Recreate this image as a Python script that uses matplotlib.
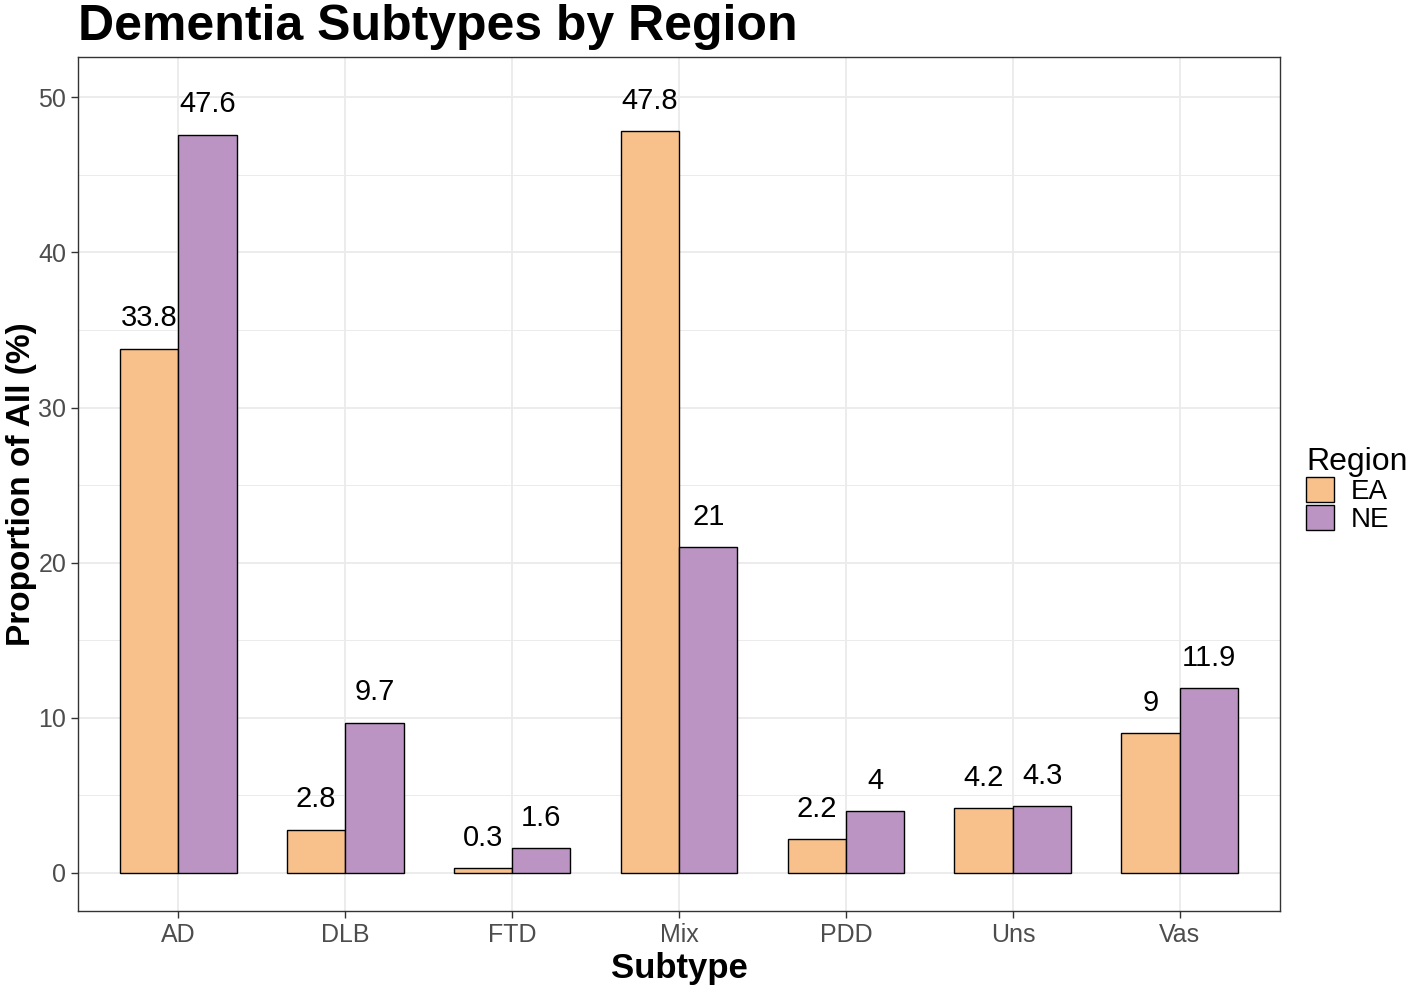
import numpy as np
import matplotlib.pyplot as plt
from matplotlib.patches import Patch
from matplotlib.ticker import MultipleLocator

plt.rcParams['font.family'] = ['Liberation Sans', 'DejaVu Sans']

subtypes = ['AD', 'DLB', 'FTD', 'Mix', 'PDD', 'Uns', 'Vas']
ea_values = [33.8, 2.8, 0.3, 47.8, 2.2, 4.2, 9]
ne_values = [47.6, 9.7, 1.6, 21, 4, 4.3, 11.9]
regions = ['EA', 'NE']
colors = ['#F8C18C', '#BB94C3']

fig = plt.figure(figsize=(14.18, 9.86), dpi=100)
ax = fig.add_axes([78 / 1418, 1 - 911 / 986, (1280 - 78) / 1418, (911 - 57) / 986])

x = np.arange(1, len(subtypes) + 1)
w = 0.35
for vals, off, col in [(ea_values, -w / 2, colors[0]), (ne_values, w / 2, colors[1])]:
    ax.bar(x + off, vals, width=w, color=col, edgecolor='black', linewidth=1.0, zorder=3)
    for xi, v in zip(x + off, vals):
        ax.annotate(f'{v:g}', (xi, v), xytext=(0, 16), textcoords='offset points',
                    ha='center', va='baseline', fontsize=21, color='black')

ax.set_xlim(0.4, 7.6)
ax.set_ylim(-2.45, 52.6)
ax.set_xticks(x)
ax.set_xticklabels(subtypes)
ax.yaxis.set_major_locator(MultipleLocator(10))
ax.yaxis.set_minor_locator(MultipleLocator(5))
ax.grid(which='major', color='#EBEBEB', linewidth=1.3, zorder=0)
ax.grid(which='minor', axis='y', color='#EBEBEB', linewidth=0.7, zorder=0)
ax.tick_params(which='minor', length=0)
ax.tick_params(which='major', labelsize=18, labelcolor='#4D4D4D', color='#333333', length=5, width=1)
for s in ax.spines.values():
    s.set_color('#333333')
    s.set_linewidth(1.0)

ax.set_xlabel('Subtype', fontsize=25, fontweight='bold', labelpad=4)
ax.set_ylabel('Proportion of All (%)', fontsize=24, fontweight='bold', labelpad=1)
fig.text(78 / 1418, 1 - 40 / 986, 'Dementia Subtypes by Region', fontsize=36,
         fontweight='bold', ha='left', va='baseline')

handles = [Patch(facecolor=c, edgecolor='black', label=r) for c, r in zip(colors, regions)]
leg = fig.legend(handles=handles, title='Region', loc='center left',
                 bbox_to_anchor=(1287 / 1418, 1 - 490 / 986), frameon=False,
                 fontsize=20, title_fontsize=23, handlelength=1.0, handleheight=1.0,
                 handletextpad=0.6, labelspacing=0.0, borderpad=0.2)
leg._legend_box.align = 'left'

fig.savefig('out.png', dpi=100)
